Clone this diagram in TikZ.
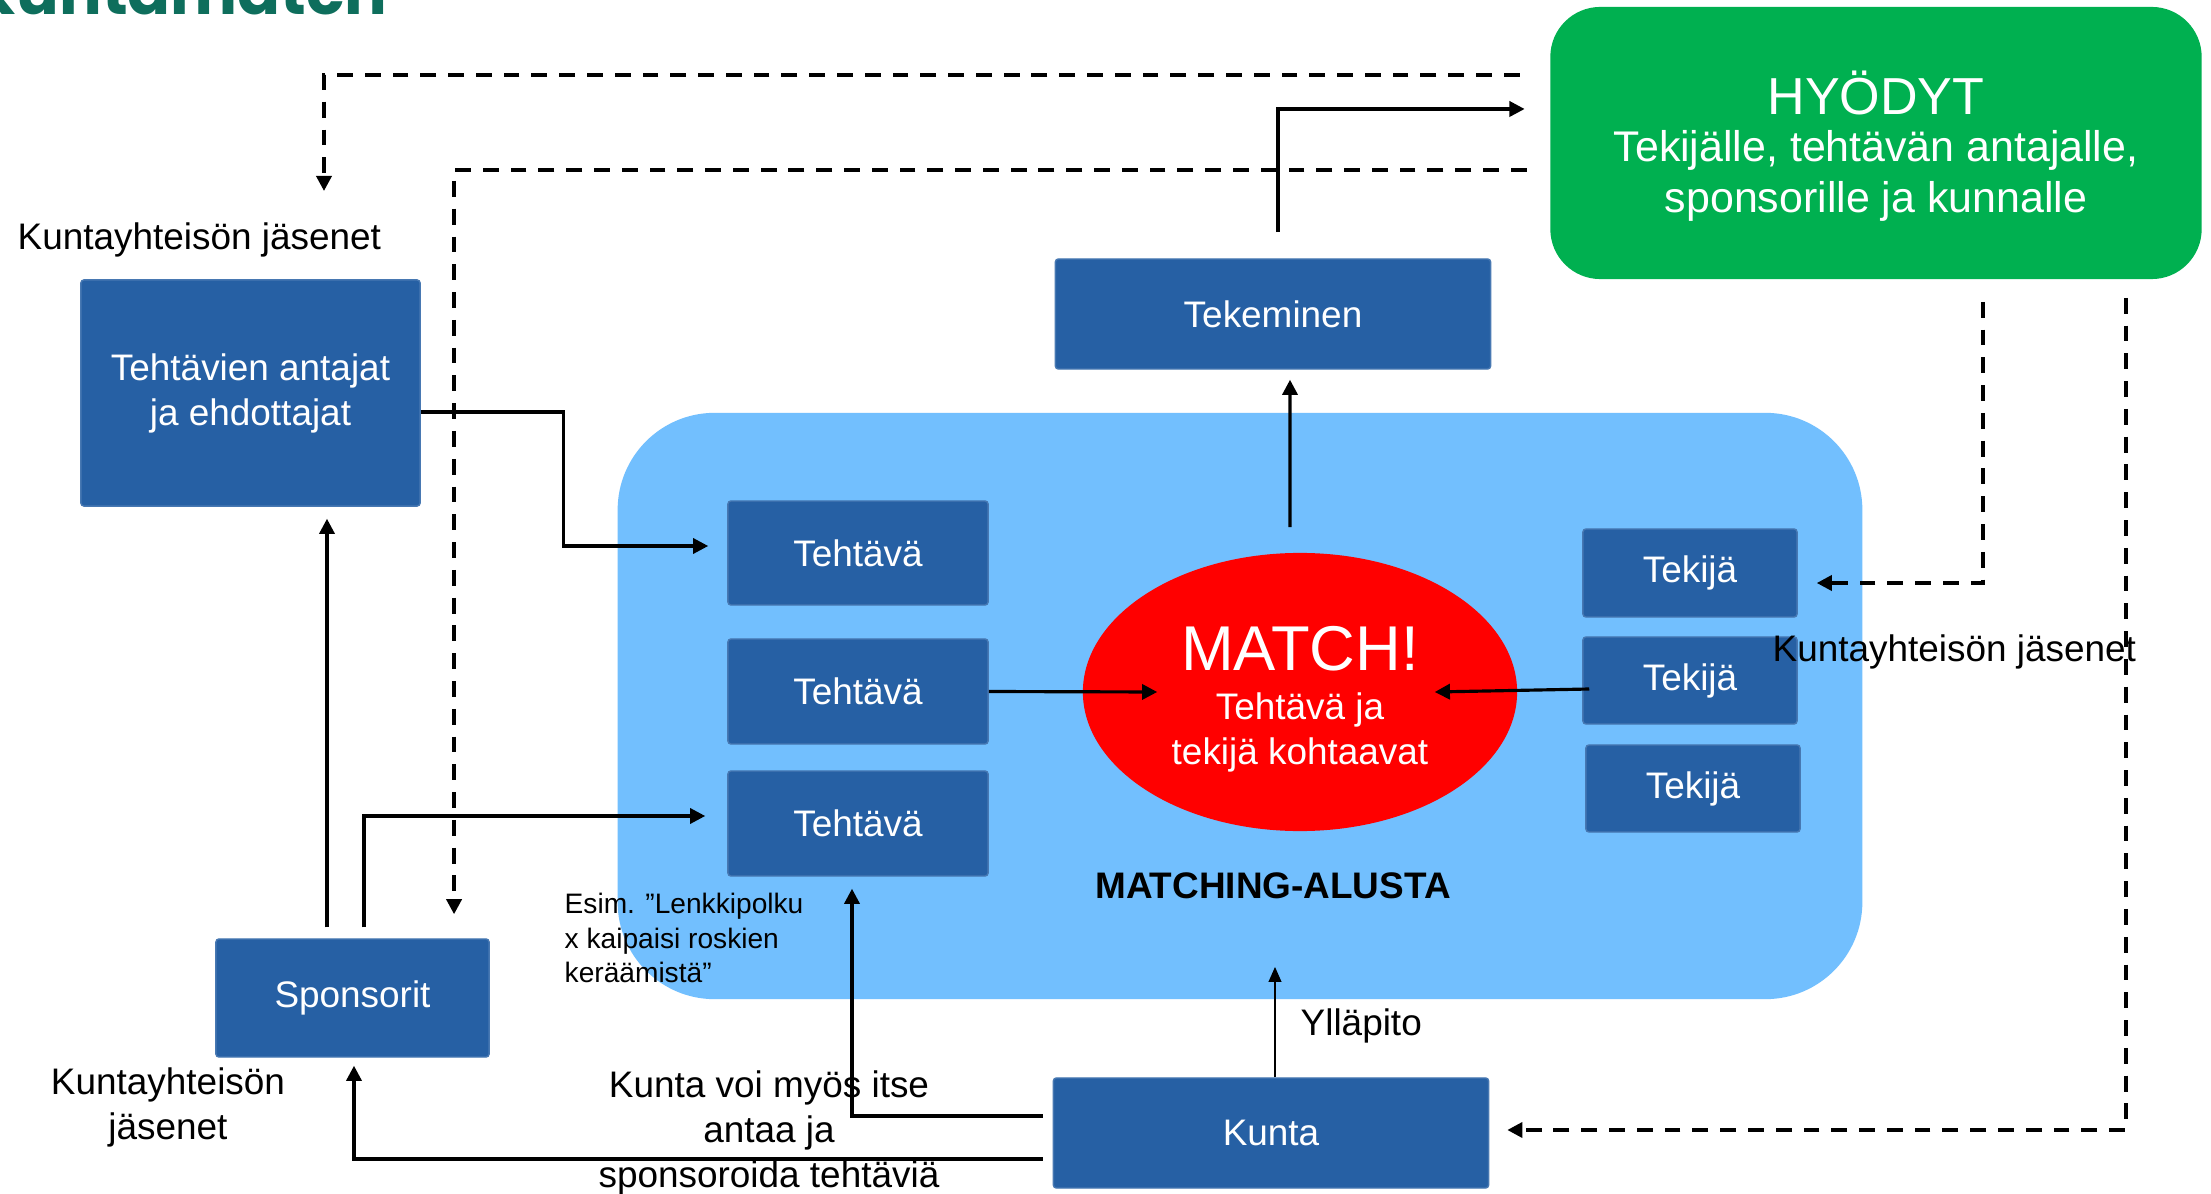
\documentclass[tikz,border=0pt]{standalone}
\usepackage{fontspec}
\setmainfont{Liberation Sans}
\newfontfamily\titlefont{Poppins}
\usetikzlibrary{arrows.meta,calc,shapes.geometric}
\definecolor{boxblue}{RGB}{38,96,164}
\definecolor{platblue}{RGB}{114,191,254}
\definecolor{hygreen}{RGB}{0,176,80}
\definecolor{titleteal}{RGB}{14,110,92}
\begin{document}
\begin{tikzpicture}[x=0.01cm,y=-0.01cm,
  bbox/.style={rectangle, fill=boxblue, draw=boxblue!85!white, line width=0.4pt, rounded corners=0.03cm, text=white, font=\fontsize{10.5}{12.8}\selectfont, align=center, inner sep=0pt},
  lbl/.style={inner sep=0pt, font=\fontsize{10.5}{12.8}\selectfont, align=center},
  wtxt/.style={inner sep=0pt, text=white, align=center},
  arr/.style={line width=0.9pt, -{Triangle[length=4.3pt,width=4.3pt]}},
  darr/.style={line width=1pt, dash pattern=on 4.5pt off 3.4pt, -{Triangle[length=4.3pt,width=4.3pt]}},
]
\useasboundingbox (0,0) rectangle (2211,1194);
\fill[white] (0,0) rectangle (2211,1194);

% title fragment
\node[anchor=base west, inner sep=0pt, text=titleteal, font=\titlefont\bfseries\fontsize{18}{21}\selectfont] (title) at (-28,15) {Kuntamatch};

% platform
\node[fill=platblue, rounded corners=0.97cm, minimum width=12.44cm, minimum height=5.86cm, inner sep=0pt] (plat) at (1240,706) {};

% boxes
\node[bbox, minimum width=3.39cm, minimum height=2.26cm] (ant) at (250.5,393) {Tehtävien antajat\\ja ehdottajat};
\node[bbox, minimum width=4.35cm, minimum height=1.10cm] (tek) at (1273,314) {Tekeminen};
\node[fill=hygreen, rounded corners=0.5cm, minimum width=6.51cm, minimum height=2.72cm, inner sep=0pt] (hy) at (1876,143) {};
\node[wtxt, font=\fontsize{14.8}{17}\selectfont] (hyt) at (1876,93) {HYÖDYT};
\node[wtxt, font=\fontsize{12.2}{14.5}\selectfont] (hyl) at (1876,176) {Tekijälle, tehtävän antajalle,\\sponsorille ja kunnalle};

\node[bbox, minimum width=2.60cm, minimum height=1.04cm] (t1) at (858,553) {Tehtävä};
\node[bbox, minimum width=2.60cm, minimum height=1.05cm] (t2) at (858,691.5) {Tehtävä};
\node[bbox, minimum width=2.60cm, minimum height=1.05cm] (t3) at (858,823.5) {Tehtävä};

\node[bbox, minimum width=2.14cm, minimum height=0.88cm] (k1) at (1690,573) {Tekijä};
\node[bbox, minimum width=2.14cm, minimum height=0.87cm] (k2) at (1690,680.5) {Tekijä};
\node[bbox, minimum width=2.14cm, minimum height=0.87cm] (k3) at (1693,788.5) {Tekijä};

\node[ellipse, fill=red, minimum width=4.34cm, minimum height=2.78cm, inner sep=0pt] (ell) at (1300,692) {};
\node[wtxt, font=\fontsize{18}{20}\selectfont] (mt) at (1300,649) {MATCH!};
\node[wtxt, font=\fontsize{10.5}{12.8}\selectfont] (ml) at (1300,732.5) {Tehtävä ja\\tekijä kohtaavat};

\node[bbox, minimum width=2.73cm, minimum height=1.18cm] (spo) at (352.5,998) {Sponsorit};
\node[bbox, minimum width=4.35cm, minimum height=1.10cm] (kun) at (1271,1133) {Kunta};

% labels
\node[lbl, anchor=west] (lbl1) at (17,240) {Kuntayhteisön jäsenet};
\node[lbl, anchor=west] (lbl2) at (1772,652) {Kuntayhteisön jäsenet};
\node[lbl] (lbl3) at (168,1107.5) {Kuntayhteisön\\jäsenet};
\node[lbl] (lbl4) at (769,1133) {Kunta voi myös itse\\antaa ja\\sponsoroida tehtäviä};
\node[lbl, anchor=west, align=left, font=\fontsize{8}{9.7}\selectfont] (lbl5) at (564,938) {Esim. ”Lenkkipolku\\x kaipaisi roskien\\keräämistä”};
\node[lbl, font=\bfseries\fontsize{10.5}{12.8}\selectfont] (lbl6) at (1273,886) {MATCHING-ALUSTA};
\node[lbl, anchor=west] (lbl7) at (1300,1026) {Ylläpito};

% solid connectors
\draw[arr] ([yshift=-0.19cm]ant.east) -- ++(143,0) |- ([yshift=0.07cm,xshift=-0.19cm]t1.west);
\coordinate (s1) at ([xshift=-0.255cm,yshift=0.11cm]spo.north);
\draw[arr] (s1) -- ($(s1 |- ant.south)+(0,12)$);
\coordinate (s2) at ([xshift=0.115cm,yshift=0.11cm]spo.north);
\draw[arr] (s2) |- ([yshift=0.075cm,xshift=-0.22cm]t3.west);
\draw[arr] ([xshift=-0.10cm,yshift=0.25cm]ell.north) -- ([xshift=0.17cm,yshift=-0.10cm]tek.south);
\draw[arr] ([xshift=0.05cm,yshift=0.26cm]tek.north) |- ([yshift=0.34cm,xshift=-0.25cm]hy.west);
\draw[arr] (t2.east) -- ([xshift=0.75cm]ell.west);
\draw[arr] ([xshift=0.07cm,yshift=-0.085cm]k2.west) -- ([xshift=-0.83cm]ell.east);
\coordinate (kn) at ([xshift=0.04cm]kun.north);
\draw[line width=0.6pt, -{Triangle[length=4.3pt,width=3.6pt]}] (kn) -- ($(kn |- plat.south)+(0,-33)$);
\draw[arr] ([xshift=-0.10cm,yshift=0.17cm]kun.west) -| ([xshift=-0.06cm,yshift=-0.12cm]t3.south);
\draw[arr] ([xshift=-0.10cm,yshift=-0.26cm]kun.west) -| ([xshift=0.015cm,yshift=-0.08cm]spo.south);

% dashed connectors
\coordinate (d1end) at (324,191);
\draw[darr] ([xshift=-0.30cm,yshift=0.68cm]hy.west) -| (d1end);
\draw[darr] ([xshift=-0.23cm,yshift=-0.27cm]hy.west) -| ([xshift=1.015cm,yshift=0.24cm]spo.north);
\draw[darr] ([xshift=1.07cm,yshift=-0.22cm]hy.south) |- ([xshift=0.19cm,yshift=-0.10cm]k1.east);
\draw[darr] ([xshift=2.50cm,yshift=-0.18cm]hy.south) |- ([xshift=0.18cm,yshift=0.03cm]kun.east);
\end{tikzpicture}
\end{document}
